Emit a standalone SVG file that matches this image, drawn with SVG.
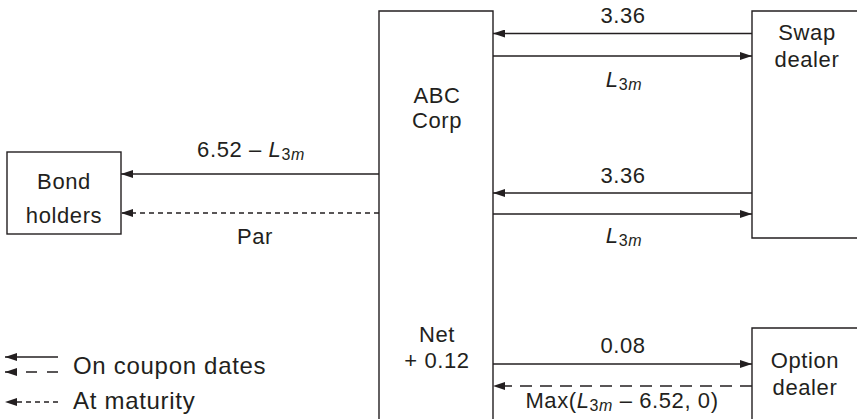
<svg xmlns="http://www.w3.org/2000/svg" width="857" height="419" viewBox="0 0 857 419">
<style>
text{font-family:"Liberation Sans",Arial,sans-serif;font-size:22px;letter-spacing:0.6px;fill:#231f20}
.c{text-anchor:middle}
.it{font-style:italic}
.sub{font-size:16px}
.lg{font-size:24px;letter-spacing:0.7px}
.box{fill:none;stroke:#231f20;stroke-width:1.4}
.ln{fill:none;stroke:#231f20;stroke-width:1.4}
.dot{stroke-dasharray:5 4}
.dash{stroke-dasharray:12 8}
</style>
<defs>
<marker id="ah" viewBox="0 0 12 8" refX="12" refY="4" markerWidth="12" markerHeight="8" markerUnits="userSpaceOnUse" orient="auto">
<path d="M0 0 L12 4 L0 8 Z" fill="#231f20"/>
</marker>
</defs>
<rect width="857" height="419" fill="#fff"/>
<g id="abc">
<path class="box" d="M379 420 V11 H493 V420"/>
<text class="c" x="437" y="103">ABC</text>
<text class="c" x="437" y="128">Corp</text>
<text class="c" x="437" y="342">Net</text>
<text class="c" x="437" y="368">+ 0.12</text>
</g>
<g id="swap">
<path class="box" d="M858 11 H752 V238 H858"/>
<text class="c" x="807" y="40">Swap</text>
<text class="c" x="807" y="67">dealer</text>
</g>
<g id="option">
<path class="box" d="M858 328 H752 V420"/>
<text class="c" x="805" y="368">Option</text>
<text class="c" x="805" y="395">dealer</text>
</g>
<g id="bond">
<rect class="box" x="7" y="152" width="114" height="82"/>
<text class="c" x="64" y="189">Bond</text>
<text class="c" x="64" y="223">holders</text>
</g>
<g id="connectors">
<line class="ln" x1="752" y1="33.5" x2="493" y2="33.5" marker-end="url(#ah)"/>
<line class="ln" x1="493" y1="56" x2="752" y2="56" marker-end="url(#ah)"/>
<line class="ln" x1="752" y1="193" x2="493" y2="193" marker-end="url(#ah)"/>
<line class="ln" x1="493" y1="214" x2="752" y2="214" marker-end="url(#ah)"/>
<line class="ln" x1="379" y1="174" x2="121" y2="174" marker-end="url(#ah)"/>
<line class="ln dot" x1="379" y1="213" x2="121" y2="213" marker-end="url(#ah)"/>
<line class="ln" x1="493" y1="364" x2="752" y2="364" marker-end="url(#ah)"/>
<line class="ln dash" x1="752" y1="386" x2="493" y2="386" marker-end="url(#ah)"/>
<text class="c" x="623" y="23">3.36</text>
<text class="c" x="624" y="87"><tspan class="it">L</tspan><tspan class="sub" dy="3">3</tspan><tspan class="sub it">m</tspan></text>
<text class="c" x="623" y="183">3.36</text>
<text class="c" x="624" y="243"><tspan class="it">L</tspan><tspan class="sub" dy="3">3</tspan><tspan class="sub it">m</tspan></text>
<text class="c" x="251" y="157">6.52 – <tspan class="it">L</tspan><tspan class="sub" dy="3">3</tspan><tspan class="sub it">m</tspan></text>
<text class="c" x="255" y="244">Par</text>
<text class="c" x="623" y="353">0.08</text>
<text class="c" x="622" y="408">Max(<tspan class="it">L</tspan><tspan class="sub" dy="3">3</tspan><tspan class="sub it">m</tspan><tspan dy="-3"> – 6.52, 0)</tspan></text>
</g>
<g id="legend">
<line class="ln" x1="58" y1="357" x2="5" y2="357" marker-end="url(#ah)"/>
<line class="ln" x1="58" y1="372" x2="5" y2="372" stroke-dasharray="11 10" marker-end="url(#ah)"/>
<line class="ln dot" x1="58" y1="402" x2="5" y2="402" marker-end="url(#ah)"/>
<text class="lg" x="73" y="374">On coupon dates</text>
<text class="lg" x="73" y="409">At maturity</text>
</g>
</svg>
